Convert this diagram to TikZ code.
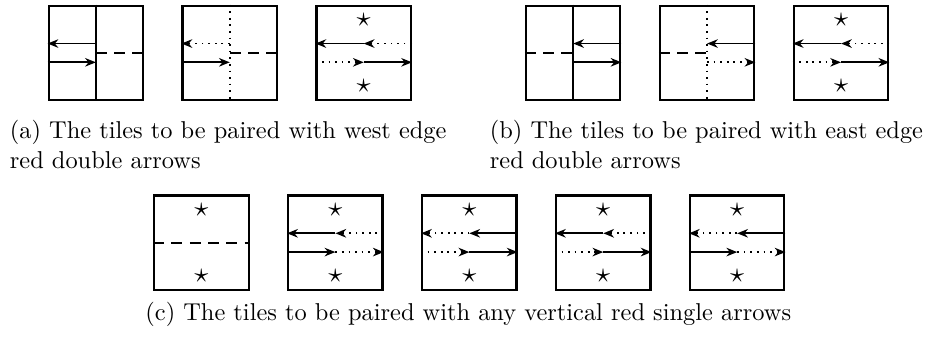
\documentclass[tikz,border=0pt]{standalone}
\usepackage{amssymb}
\usepackage{amsmath}
\usepackage{tikz}
\usetikzlibrary{shapes}
\usetikzlibrary{arrows,arrows.meta,positioning}
\tikzstyle{tile}=[draw, line width=0.9pt, minimum size=1.36cm, inner sep=0pt]
\tikzstyle{dsh}=[thick, dash pattern=on 4.5pt off 3pt]
\tikzstyle{starnode}=[inner sep=0pt, scale=1.15]
\tikzstyle{captxt}=[inner sep=0pt, align=left]
\newcommand{\dy}{3.85pt}
\newcommand{\ds}{13.5pt}

\begin{document}
\begin{tikzpicture}
[->, node distance = 1.93cm,>={Stealth[length=4.4pt,width=3.5pt,inset=1.4pt]},line width=0.7pt]
\useasboundingbox (0,0) rectangle (380.9pt,-137.8pt);
% (a) west edge
\node[tile] (a1) at (39.3pt,-21.7pt) {};
\node[tile] [right of =a1] (a2) {};
\node[tile] [right of =a2] (a3) {};
% (b) east edge
\node[tile] (b1) at (235pt,-21.7pt) {};
\node[tile] [right of =b1] (b2) {};
\node[tile] [right of =b2] (b3) {};
% (c) vertical single
\node[tile] (c1) at (82.6pt,-99.5pt) {};
\node[tile] [right of =c1] (c2) {};
\node[tile] [right of =c2] (c3) {};
\node[tile] [right of =c3] (c4) {};
\node[tile] [right of =c4] (c5) {};
% stars
\node[starnode] (a3n) at ([yshift=\ds]a3.center) {$\star$};
\node[starnode] (a3s) at ([yshift=-\ds]a3.center) {$\star$};
\node[starnode] (b3n) at ([yshift=\ds]b3.center) {$\star$};
\node[starnode] (b3s) at ([yshift=-\ds]b3.center) {$\star$};
\node[starnode] (c1n) at ([yshift=\ds]c1.center) {$\star$};
\node[starnode] (c1s) at ([yshift=-\ds]c1.center) {$\star$};
\node[starnode] (c2n) at ([yshift=\ds]c2.center) {$\star$};
\node[starnode] (c2s) at ([yshift=-\ds]c2.center) {$\star$};
\node[starnode] (c3n) at ([yshift=\ds]c3.center) {$\star$};
\node[starnode] (c3s) at ([yshift=-\ds]c3.center) {$\star$};
\node[starnode] (c4n) at ([yshift=\ds]c4.center) {$\star$};
\node[starnode] (c4s) at ([yshift=-\ds]c4.center) {$\star$};
\node[starnode] (c5n) at ([yshift=\ds]c5.center) {$\star$};
\node[starnode] (c5s) at ([yshift=-\ds]c5.center) {$\star$};
\path{
(a1.north) edge[-] (a1.south)
(a1.center) edge[-, dsh] (a1.east)
([yshift=\dy]a1.center) edge ([yshift=\dy]a1.west)
([yshift=-\dy]a1.west) edge ([yshift=-\dy]a1.center)
(a2.north) edge[-, dotted] (a2.south)
(a2.center) edge[-, dsh] (a2.east)
([yshift=\dy]a2.center) edge[dotted] ([yshift=\dy]a2.west)
([yshift=-\dy]a2.west) edge ([yshift=-\dy]a2.center)
([yshift=\dy]a3.center) edge ([yshift=\dy]a3.west)
([yshift=\dy]a3.east) edge[dotted] ([yshift=\dy]a3.center)
([yshift=-\dy]a3.west) edge[dotted] ([yshift=-\dy]a3.center)
([yshift=-\dy]a3.center) edge ([yshift=-\dy]a3.east)
(b1.north) edge[-] (b1.south)
(b1.west) edge[-, dsh] (b1.center)
([yshift=\dy]b1.east) edge ([yshift=\dy]b1.center)
([yshift=-\dy]b1.center) edge ([yshift=-\dy]b1.east)
(b2.north) edge[-, dotted] (b2.south)
(b2.west) edge[-, dsh] (b2.center)
([yshift=\dy]b2.east) edge ([yshift=\dy]b2.center)
([yshift=-\dy]b2.center) edge[dotted] ([yshift=-\dy]b2.east)
([yshift=\dy]b3.center) edge ([yshift=\dy]b3.west)
([yshift=\dy]b3.east) edge[dotted] ([yshift=\dy]b3.center)
([yshift=-\dy]b3.west) edge[dotted] ([yshift=-\dy]b3.center)
([yshift=-\dy]b3.center) edge ([yshift=-\dy]b3.east)
(c1.west) edge[-, dsh] (c1.east)
([yshift=\dy]c2.center) edge ([yshift=\dy]c2.west)
([yshift=\dy]c2.east) edge[dotted] ([yshift=\dy]c2.center)
([yshift=-\dy]c2.west) edge ([yshift=-\dy]c2.center)
([yshift=-\dy]c2.center) edge[dotted] ([yshift=-\dy]c2.east)
([yshift=\dy]c3.center) edge[dotted] ([yshift=\dy]c3.west)
([yshift=\dy]c3.east) edge ([yshift=\dy]c3.center)
([yshift=-\dy]c3.west) edge[dotted] ([yshift=-\dy]c3.center)
([yshift=-\dy]c3.center) edge ([yshift=-\dy]c3.east)
([yshift=\dy]c4.center) edge ([yshift=\dy]c4.west)
([yshift=\dy]c4.east) edge[dotted] ([yshift=\dy]c4.center)
([yshift=-\dy]c4.west) edge[dotted] ([yshift=-\dy]c4.center)
([yshift=-\dy]c4.center) edge ([yshift=-\dy]c4.east)
([yshift=\dy]c5.center) edge[dotted] ([yshift=\dy]c5.west)
([yshift=\dy]c5.east) edge ([yshift=\dy]c5.center)
([yshift=-\dy]c5.west) edge ([yshift=-\dy]c5.center)
([yshift=-\dy]c5.center) edge[dotted] ([yshift=-\dy]c5.east)
};
% captions
\node[captxt, anchor=north west] (capa) at (3.7pt,-49.1pt) {(a) The tiles to be paired with west edge\\red double arrows};
\node[captxt, anchor=north west] (capb) at (200.5pt,-49.1pt) {(b) The tiles to be paired with east edge\\red double arrows};
\node[captxt, anchor=base] (capc) at (192pt,-131.6pt) {(c) The tiles to be paired with any vertical red single arrows};
\end{tikzpicture}
\end{document}
